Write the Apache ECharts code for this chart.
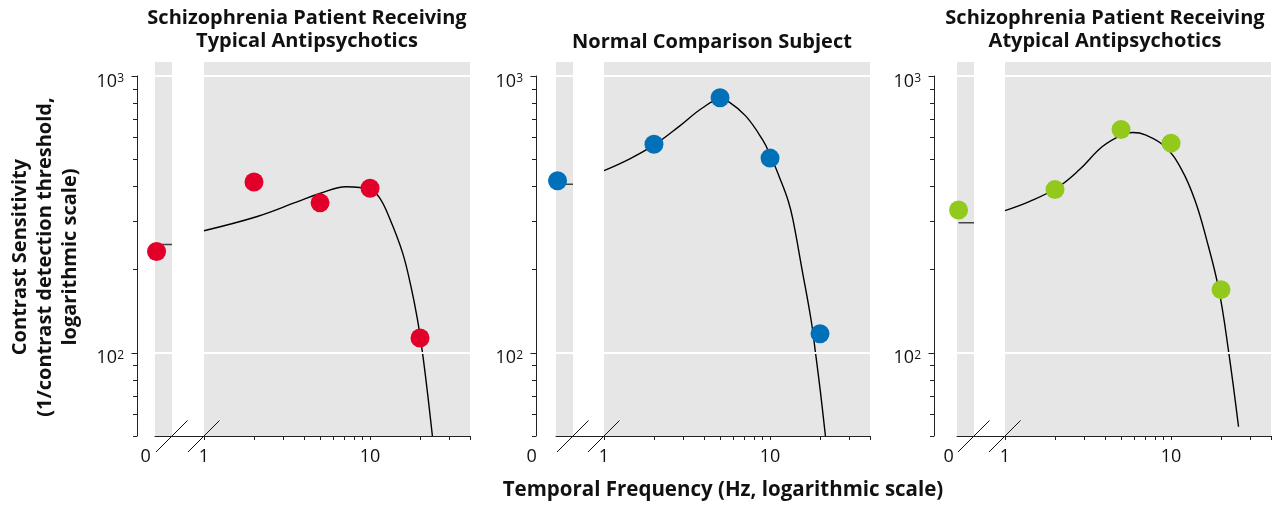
<!DOCTYPE html>
<html><head><meta charset="utf-8">
<script src="https://cdn.jsdelivr.net/npm/echarts@6/dist/echarts.min.js"></script>
<style>html,body{margin:0;padding:0;background:#fff}#c{width:1274px;height:510px}</style>
</head><body><div id="c"></div>
<script>
// ---------------- DATA ----------------
const panelTitles = [
  'Schizophrenia Patient Receiving\nTypical Antipsychotics',
  'Normal Comparison Subject',
  'Schizophrenia Patient Receiving\nAtypical Antipsychotics'
];
const yAxisTitle = 'Contrast Sensitivity\n(1/contrast detection threshold,\nlogarithmic scale)';
const xAxisTitle = 'Temporal Frequency (Hz, logarithmic scale)';

const pointFreqs = [2, 5, 10, 20];

// Typical antipsychotics
const typicalZeroValue = 232;
const typicalZeroFit = 246;
const typicalValues = [414, 348, 393, 113];
const typicalFitFreqs = [1, 2.07, 3.6, 5.03, 7.18, 10, 11.37, 13.06, 15.69, 17.62, 19.3, 20.69, 22.16, 23.75];
const typicalFitValues = [276, 310, 350, 377, 398, 389, 364, 308, 230, 174, 132, 100, 72, 50];

// Normal comparison subject
const normalZeroValue = 418;
const normalZeroFit = 406;
const normalValues = [567, 835, 505, 117];
const normalFitFreqs = [1, 1.43, 2.03, 2.85, 3.93, 5.02, 5.68, 7.15, 8.99, 10, 11.6, 12.9, 13.73, 15.61, 17.68, 18.78, 20.12, 21.56];
const normalFitValues = [455, 502, 566, 659, 768, 823, 805, 716, 590, 520, 419, 352, 303, 199, 131, 100, 72, 50];

// Atypical antipsychotics
const atypicalZeroValue = 328;
const atypicalZeroFit = 295;
const atypicalValues = [389, 641, 572, 169];
const atypicalFitFreqs = [1, 1.41, 2.09, 2.8, 3.86, 5.07, 5.88, 7.0, 9.2, 11.6, 13.9, 16.3, 19.41, 22.27, 25.5];
const atypicalFitValues = [326, 352, 397, 458, 556, 613, 625, 613, 556, 458, 357, 259, 169, 100, 54];

// tick values
const yTickValues = [50, 60, 70, 80, 90, 100, 200, 300, 400, 500, 600, 700, 800, 900, 1000];
const yLabelValues = [100, 1000];
const xTickValues = [1, 2, 3, 4, 5, 6, 7, 8, 9, 10, 20, 30, 40];
const xLabelValues = [1, 10];

// ---------------- LAYOUT / STYLE ----------------
const FONT = '"Open Sans", "DejaVu Sans", sans-serif';
const AXIS_COLOR = '#222';
const BG = '#e6e6e6';
const Y_MIN = 50, Y_MAX = 1000;
const AXIS_TOP = 76, AXIS_H = 360;      // 10^3 .. 50
const BG_TOP = 62, BG_H = 374;          // grey panel top .. 50
const Y_BG_MAX = Y_MIN * Math.pow(Y_MAX / Y_MIN, BG_H / AXIS_H);
const AXIS_Y = AXIS_TOP + AXIS_H;

const layout = [
  {axisX: 137, bandL: 155, bandR: 172, mainL: 204, mainR: 470, zeroShift: 11, color: '#e2002b', titleX: 307},
  {axisX: 536, bandL: 556, bandR: 573, mainL: 604, mainR: 870, zeroShift: 26, color: '#0070b9', titleX: 712},
  {axisX: 934, bandL: 957, bandR: 974, mainL: 1005, mainR: 1271, zeroShift: 10, color: '#93c91d', titleX: 1105}
];
const seriesData = [
  {zero: typicalZeroValue, zeroFit: typicalZeroFit, vals: typicalValues, fitF: typicalFitFreqs, fitV: typicalFitValues},
  {zero: normalZeroValue, zeroFit: normalZeroFit, vals: normalValues, fitF: normalFitFreqs, fitV: normalFitValues},
  {zero: atypicalZeroValue, zeroFit: atypicalZeroFit, vals: atypicalValues, fitF: atypicalFitFreqs, fitV: atypicalFitValues}
];

const grid = [], xAxis = [], yAxis = [], series = [], graphic = [];
const zip = (a, b) => a.map((v, i) => [v, b[i]]);
const isPow10 = v => Math.abs(Math.log10(v) - Math.round(Math.log10(v))) < 1e-9;

// tick renderers (positions come from the axis scales via api.coord)
function yTickRender(params, api) {
  const v = api.value(1);
  const pt = api.coord([api.value(0), v]);
  const y = Math.round(pt[1]) + 0.5;
  const len = isPow10(v) ? 5.5 : 4;
  return {type: 'line', shape: {x1: pt[0] - len, y1: y, x2: pt[0], y2: y},
          style: {stroke: AXIS_COLOR, lineWidth: 1}};
}
function xTickRender(params, api) {
  const pt = api.coord([api.value(0), api.value(1)]);
  const x = Math.round(pt[0]) + 0.5;
  return {type: 'line', shape: {x1: x, y1: pt[1], x2: x, y2: pt[1] + 4},
          style: {stroke: AXIS_COLOR, lineWidth: 1}};
}

layout.forEach((L, p) => {
  const D = seriesData[p];
  const gAxis = grid.length;
  // axis grid (visible y axis)
  grid.push({left: L.axisX, top: AXIS_TOP, width: 1, height: AXIS_H, containLabel: false});
  xAxis.push({gridIndex: gAxis, type: 'value', show: false, min: 0, max: 1});
  yAxis.push({
    gridIndex: gAxis, type: 'log', logBase: 10, min: Y_MIN, max: Y_MAX, position: 'left',
    axisLine: {show: true, lineStyle: {color: AXIS_COLOR, width: 1}},
    axisTick: {show: false},
    axisLabel: {
      show: true, customValues: yLabelValues, margin: 13, padding: [11, 0, 0, 0],
      formatter: v => '{b|10}{s|' + Math.round(Math.log10(v)) + '}',
      rich: {
        b: {fontFamily: FONT, fontSize: 18, color: '#111'},
        s: {fontFamily: FONT, fontSize: 12, color: '#111', verticalAlign: 'top'}
      }
    },
    splitLine: {show: false}, minorTick: {show: false}
  });
  series.push({
    type: 'custom', xAxisIndex: gAxis, yAxisIndex: gAxis, silent: true, z: 5,
    data: yTickValues.map(v => [0, v]), renderItem: yTickRender
  });
  // zero grid
  const gZero = grid.length;
  grid.push({left: L.bandL, top: BG_TOP, width: L.bandR - L.bandL, height: BG_H, show: true,
             backgroundColor: BG, borderWidth: 0});
  xAxis.push({
    gridIndex: gZero, type: 'value', min: -0.1, max: 1,
    axisLine: {show: true, onZero: false, lineStyle: {color: AXIS_COLOR}},
    axisTick: {show: false}, splitLine: {show: false},
    axisLabel: {customValues: [0], formatter: () => '0', fontFamily: FONT, fontSize: 18, color: '#111',
                margin: 12, padding: [0, L.zeroShift * 2, 0, 0]}
  });
  yAxis.push({gridIndex: gZero, type: 'log', logBase: 10, min: Y_MIN, max: Y_BG_MAX, show: false});
  // main grid
  const gMain = grid.length;
  grid.push({left: L.mainL, top: BG_TOP, width: L.mainR - L.mainL, height: BG_H, show: true,
             backgroundColor: BG, borderWidth: 0});
  xAxis.push({
    gridIndex: gMain, type: 'log', logBase: 10, min: 1, max: 40,
    axisLine: {show: true, onZero: false, lineStyle: {color: AXIS_COLOR}},
    axisTick: {show: false},
    axisLabel: {customValues: xLabelValues, fontFamily: FONT, fontSize: 18, color: '#111', margin: 12,
                formatter: v => String(Math.round(v))},
    splitLine: {show: false}, minorTick: {show: false}
  });
  yAxis.push({gridIndex: gMain, type: 'log', logBase: 10, min: Y_MIN, max: Y_BG_MAX, show: false});
  series.push({
    type: 'custom', xAxisIndex: gMain, yAxisIndex: gMain, silent: true, z: 5, clip: false,
    data: xTickValues.map(f => [f, Y_MIN]), renderItem: xTickRender
  });

  // white gridlines
  [gMain, gZero].forEach(g => series.push({
    type: 'line', xAxisIndex: g, yAxisIndex: g, data: [], z: 1, silent: true,
    markLine: {silent: true, symbol: ['none', 'none'], label: {show: false},
               lineStyle: {color: '#fff', width: 2, type: 'solid'}, animation: false,
               data: yLabelValues.map(v => ({yAxis: v}))}
  }));
  // fitted curve
  series.push({
    type: 'line', xAxisIndex: gMain, yAxisIndex: gMain, data: zip(D.fitF, D.fitV),
    smooth: 0.4, symbol: 'none', z: 3, lineStyle: {color: '#000', width: 1.4}
  });
  // zero-frequency fit level
  series.push({
    type: 'line', xAxisIndex: gZero, yAxisIndex: gZero, data: [[0, D.zeroFit], [1, D.zeroFit]],
    symbol: 'none', z: 3, lineStyle: {color: '#444', width: 1.6}
  });
  // points
  series.push({
    type: 'scatter', xAxisIndex: gMain, yAxisIndex: gMain, data: zip(pointFreqs, D.vals),
    symbolSize: 19, z: 4, itemStyle: {color: L.color, opacity: 1}
  });
  series.push({
    type: 'scatter', xAxisIndex: gZero, yAxisIndex: gZero, data: [[0, D.zero]],
    symbolSize: 19, z: 4, itemStyle: {color: L.color, opacity: 1}
  });

  // axis line through the gap
  graphic.push({type: 'line', shape: {x1: L.bandR, y1: AXIS_Y + 0.5, x2: L.mainL, y2: AXIS_Y + 0.5},
                style: {stroke: AXIS_COLOR, lineWidth: 1}, z: 100});
  // break marks
  [L.bandR, L.mainL].forEach(cx => {
    graphic.push({type: 'line', shape: {x1: cx - 16, y1: AXIS_Y + 16, x2: cx + 15.5, y2: AXIS_Y - 15.5},
                  style: {stroke: '#111', lineWidth: 1}, z: 100});
  });
  // panel title
  graphic.push({type: 'text', x: L.titleX, y: panelTitles[p].indexOf('\n') >= 0 ? 30 : 42, z: 100,
                style: {text: panelTitles[p], fill: '#111', font: 'bold 20px ' + FONT,
                        align: 'center', verticalAlign: 'middle', textAlign: 'center', textVerticalAlign: 'middle',
                        lineHeight: 23}});
});

graphic.push({type: 'text', x: 45, y: 257, rotation: Math.PI / 2, z: 100,
              style: {text: yAxisTitle, fill: '#111', font: 'bold 20px ' + FONT,
                      align: 'center', verticalAlign: 'middle', textAlign: 'center', textVerticalAlign: 'middle',
                      lineHeight: 25}});
graphic.push({type: 'text', x: 723, y: 490, z: 100,
              style: {text: xAxisTitle, fill: '#111', font: 'bold 20.5px ' + FONT,
                      align: 'center', verticalAlign: 'middle', textAlign: 'center', textVerticalAlign: 'middle'}});

const chart = echarts.init(document.getElementById('c'), null, {renderer: 'canvas'});
chart.setOption({animation: false, backgroundColor: '#fff', grid, xAxis, yAxis, series, graphic});
</script>
</body></html>
